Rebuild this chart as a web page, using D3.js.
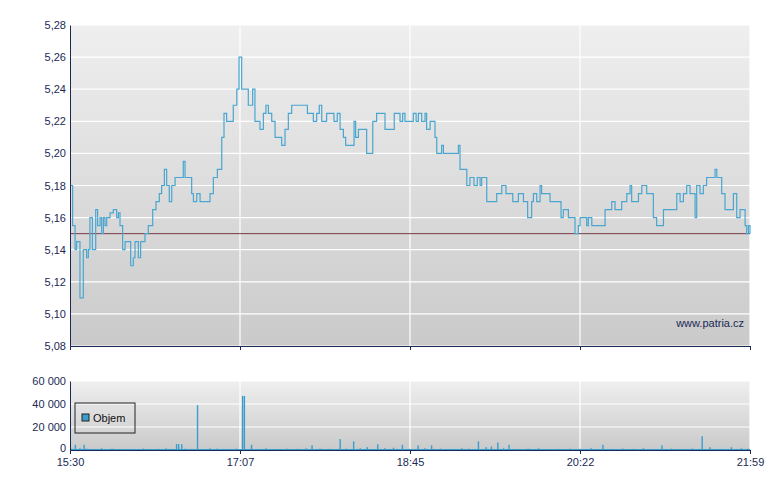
<!DOCTYPE html>
<html><head><meta charset="utf-8">
<script src="https://cdn.jsdelivr.net/npm/d3@7"></script>
<style>body{margin:0;background:#fff;font-family:"Liberation Sans",Arial,sans-serif;}</style>
</head><body><svg id="c" width="780" height="490"></svg>
<script>
// minutes after 15:30 and price
const priceMin = [0,1,1.5,2.9,3.8,5.7,7.6,9.5,10.5,11.4,12.8,14.7,15.8,17.2,18.1,19.1,20,21,22.9,24.8,26.7,27.7,28.6,30.1,31.5,33.4,34.7,36.2,37.2,39.1,40.4,42.9,44.8,47.3,49.2,51.1,52.4,54,55.3,56.8,58.2,60.1,63.9,64.8,65.8,67.7,69.6,70.6,72.5,74.4,78.2,80.1,82,84.3,86.8,88.1,89.6,91.9,93.4,95.4,96.7,98.2,100.1,102,104.5,105.8,108.7,110.6,112.1,113.5,115.4,117.3,120.1,121.1,123,124.9,126.8,134.4,135.8,139.2,141.1,142.6,144,146.8,149.7,151,152.9,154.5,156.4,157.7,161.5,162.5,163.4,165,168.8,169.7,172,173.2,175.4,178.9,180.2,184,185.5,188.8,190.3,191.6,195.5,196.4,198,199.3,201.2,203.1,204,206,207.9,208.8,209.8,212.6,213.6,221.2,222.2,223.1,224.7,226,227,228.8,231.1,233,234.6,235.5,237.4,238.4,243.2,244.1,247,249.4,251.7,253.3,256.5,259.4,261.8,264.1,265.1,267,268.9,269.8,274.6,280.3,280.9,282.2,285.1,288,288.9,290.8,291.8,294.6,295.6,296.5,298.5,305.1,306.1,309.9,311.8,313.7,315.6,318.5,320.4,321.3,325.2,327.1,329,329.9,331.8,333.7,335.6,337.5,339.5,345.2,347.1,349,350.9,352.8,354.7,357.6,358.5,360.4,362.3,364.2,367.1,369,370,371.9,372.8,374.7,377.6,379.5,381.4,383.3,385.2,386.2,387.1,388.1,389];
const priceVal = [5.18,5.18,5.155,5.14,5.145,5.11,5.14,5.135,5.14,5.16,5.14,5.165,5.155,5.16,5.15,5.16,5.155,5.16,5.163,5.165,5.16,5.163,5.155,5.14,5.145,5.145,5.13,5.135,5.145,5.135,5.145,5.15,5.155,5.165,5.17,5.175,5.18,5.19,5.18,5.17,5.18,5.185,5.185,5.195,5.185,5.185,5.175,5.17,5.175,5.17,5.17,5.175,5.185,5.19,5.21,5.225,5.22,5.22,5.23,5.24,5.26,5.24,5.24,5.23,5.24,5.22,5.215,5.225,5.23,5.225,5.22,5.21,5.21,5.205,5.215,5.225,5.23,5.23,5.225,5.22,5.225,5.23,5.22,5.225,5.225,5.22,5.225,5.215,5.21,5.205,5.205,5.22,5.21,5.215,5.215,5.2,5.2,5.22,5.225,5.225,5.215,5.215,5.225,5.22,5.225,5.22,5.22,5.225,5.22,5.225,5.22,5.225,5.215,5.22,5.22,5.21,5.2,5.205,5.2,5.2,5.205,5.19,5.19,5.19,5.18,5.185,5.18,5.185,5.18,5.185,5.185,5.17,5.17,5.175,5.18,5.175,5.175,5.17,5.175,5.17,5.16,5.17,5.175,5.17,5.18,5.175,5.17,5.17,5.16,5.165,5.16,5.16,5.15,5.155,5.16,5.16,5.155,5.16,5.155,5.155,5.165,5.17,5.165,5.165,5.17,5.175,5.18,5.17,5.175,5.18,5.18,5.175,5.175,5.16,5.155,5.155,5.165,5.165,5.175,5.17,5.175,5.18,5.175,5.16,5.18,5.175,5.18,5.185,5.185,5.19,5.185,5.185,5.175,5.165,5.165,5.175,5.16,5.165,5.165,5.155,5.15,5.155,5.15];
const refPrice = 5.15;

const volMin = [1,3,5.6,8,9.4,12,15,18,20,24,28,33,38,42,47,51,55,58,60.9,62.1,63.9,66,69,72.9,76,80,84,88,92,95,98.7,99.7,103.8,108,112,118,124,130,135,138.4,143,148,154.5,158,162.2,166,170,176,180,185,190.1,194,199.1,203,206.8,212,218,224,228,233.6,238,241,244.7,248,251.1,256,262,268,274,280,286,292,298,304.8,310,316,322,328,333,338.6,344,350,356,361.6,366,372,378.3,384,388];
const volVal = [1200,4500,1500,4500,1300,1000,900,1500,800,1200,700,1000,600,1300,800,1000,1400,1000,5200,5200,5000,1200,1000,39000,900,1500,1200,1000,800,1200,47000,47000,4500,1000,1500,800,1200,1000,1500,4000,1200,1000,9500,1200,7500,1500,2500,5000,1500,2000,4500,1000,4000,1500,4000,1200,1000,1500,1200,7500,2500,3000,6500,1500,4500,1000,1200,1500,800,1000,1200,1000,1500,4500,1000,1300,1000,1500,900,4000,1200,1000,1300,12000,2500,1000,2500,1500,1200];

const xTicks = ["15:30","17:07","18:45","20:22","21:59"];
const priceTicks = [5.08,5.10,5.12,5.14,5.16,5.18,5.20,5.22,5.24,5.26,5.28];
const volTicks = [0,20000,40000,60000];

const svg = d3.select('#c');
const L = 70, R = 750, T = 25, B = 346, VT = 381, VB = 450;
const x = d3.scaleLinear().domain([0, 389]).range([L, R]);
const y = d3.scaleLinear().domain([5.08, 5.28]).range([B, T]);
const yv = d3.scaleLinear().domain([0, 60000]).range([VB, VT]);

const defs = svg.append('defs');
const g = defs.append('linearGradient').attr('id', 'bg').attr('x1', 0).attr('x2', 0).attr('y1', 0).attr('y2', 1);
g.append('stop').attr('offset', 0).attr('stop-color', '#efefef');
g.append('stop').attr('offset', 1).attr('stop-color', '#cacaca');

const fmt = d3.format('.2f');
const panel = (top, bottom) => {
    svg.append('rect').attr('x', L).attr('y', top).attr('width', R - L).attr('height', bottom - top).attr('fill', 'url(#bg)');
};
panel(T, B);
panel(VT, VB);

// grids
svg.append('g').selectAll('line').data(priceTicks).join('line')
    .attr('x1', L).attr('x2', R).attr('y1', d => y(d)).attr('y2', d => y(d))
    .attr('stroke', '#fff').attr('stroke-width', 1.2);
svg.append('g').selectAll('line').data(volTicks).join('line')
    .attr('x1', L).attr('x2', R).attr('y1', d => yv(d)).attr('y2', d => yv(d))
    .attr('stroke', '#fff').attr('stroke-width', 1.2);
const xt = xTicks.map((t, i) => i * 389 / 4);
[[T, B], [VT, VB]].forEach(([a, b]) => {
    svg.append('g').selectAll('line').data(xt.slice(1)).join('line')
        .attr('x1', d => x(d)).attr('x2', d => x(d)).attr('y1', a).attr('y2', b)
        .attr('stroke', '#fff').attr('stroke-width', 1.2);
});

// reference line
svg.append('line').attr('x1', L).attr('x2', R).attr('y1', y(refPrice)).attr('y2', y(refPrice))
    .attr('stroke', '#7a3a48').attr('stroke-width', 1);

// price line
const pts = priceMin.map((m, i) => [m, priceVal[i]]);
svg.append('path').datum(pts)
    .attr('d', d3.line().x(d => x(d[0])).y(d => y(d[1])).curve(d3.curveStepAfter))
    .attr('fill', 'none').attr('stroke', '#4aa6d0').attr('stroke-width', 1.2);

// volume bars
svg.append('g').selectAll('rect').data(volMin.map((m, i) => [m, volVal[i]])).join('rect')
    .attr('x', d => x(d[0]) - 0.6).attr('width', 1.4)
    .attr('y', d => yv(d[1])).attr('height', d => VB - yv(d[1]))
    .attr('fill', '#3a9dcc');
svg.append('line').attr('x1', L).attr('x2', R).attr('y1', VB - 0.5).attr('y2', VB - 0.5).attr('stroke', '#3a9dcc');

// axes
const axisCol = '#1a2a55';
svg.append('g').attr('transform', `translate(${L},0)`)
    .call(d3.axisLeft(y).tickValues(priceTicks).tickFormat(d => fmt(d).replace('.', ',')).tickSize(0).tickPadding(4))
    .call(a => a.select('.domain').attr('stroke', axisCol));
svg.append('g').attr('transform', `translate(${L},0)`)
    .call(d3.axisLeft(yv).tickValues(volTicks).tickFormat(d => d3.format(',')(d).replace(',', ' ')).tickSize(0).tickPadding(4))
    .call(a => a.select('.domain').attr('stroke', axisCol))
    .call(a => a.selectAll('.tick text').filter(d => d === 0).attr('dy', '0.1em'));
svg.append('g').attr('transform', `translate(0,${B})`)
    .call(d3.axisBottom(x).tickValues(xt).tickFormat('').tickSize(4).tickSizeOuter(0))
    .call(a => a.selectAll('line,path').attr('stroke', axisCol));
svg.append('g').attr('transform', `translate(0,${VB})`)
    .call(d3.axisBottom(x).tickValues(xt).tickFormat((d, i) => xTicks[i]).tickSize(4).tickSizeOuter(0).tickPadding(4))
    .call(a => a.selectAll('line,path').attr('stroke', axisCol));
svg.selectAll('.tick text').attr('fill', '#1a2a55').attr('font-size', 11).attr('font-family', '"Liberation Sans",Arial,sans-serif');

svg.append('text').attr('x', 744).attr('y', 327).attr('text-anchor', 'end')
    .attr('font-size', 11).attr('fill', '#1a2a55').text('www.patria.cz');

// legend
const lg = svg.append('g').attr('transform', 'translate(75,403)');
lg.append('rect').attr('width', 60).attr('height', 30).attr('fill', 'none').attr('stroke', '#222');
lg.append('rect').attr('x', 7).attr('y', 11).attr('width', 7).attr('height', 7).attr('fill', '#3a9dcc').attr('stroke', '#222');
lg.append('text').attr('x', 18).attr('y', 19).attr('font-size', 11).attr('fill', '#111').text('Objem');
</script></body></html>
